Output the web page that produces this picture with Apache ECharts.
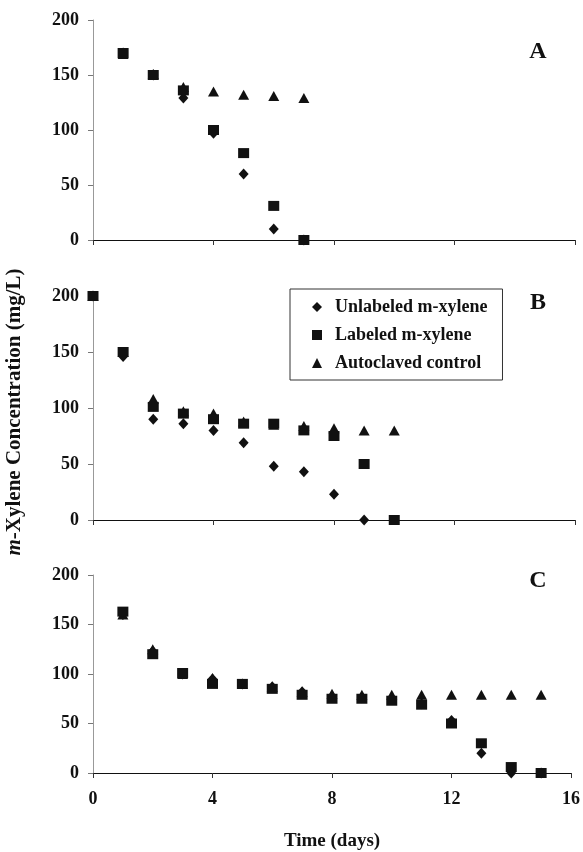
<!DOCTYPE html>
<html><head><meta charset="utf-8">
<script src="https://cdn.jsdelivr.net/npm/echarts@6/dist/echarts.min.js"></script>
<style>html,body{margin:0;padding:0;background:#fff}#c{width:583px;height:852px}</style>
</head><body><div id="c"></div>
<script>
// Panel A (days 1-7)
const daysA = [1,2,3,4,5,6,7];
const unlabeledA = [170,150,129,97,60,10,0];
const labeledA   = [170,150,136,100,79,31,0];
const autoclavedA= [169,151,139,135,132,131,129];
// Panel B (days 0-10)
const daysB = [0,1,2,3,4,5,6,7,8,9,10];
const unlabeledB = [200,146,90,86,80,69,48,43,23,0,null];
const labeledB   = [200,150,101,95,90,86,86,80,75,50,0];
const autoclavedB= [200,150,108,97,95,88,85,84,82,80,80];
// Panel C (days 1-15)
const daysC = [1,2,3,4,5,6,7,8,9,10,11,12,13,14,15];
const unlabeledC = [160,123,100,95,90,87,82,77,76,75,70,53,20,0,0];
const labeledC   = [163,120,101,90,90,85,79,75,75,73,69,50,30,6,0];
const autoclavedC= [160,125,100,96,90,87,82,80,79,79,79,79,79,79,79];
const xTicks = [0,4,8,12,16];
const yTicks = [0,50,100,150,200];
const seriesNames = ['Unlabeled m-xylene','Labeled m-xylene','Autoclaved control'];
const panelLetters = ['A','B','C'];

const FONT = '"Liberation Serif", "Times New Roman", serif';
const chart = echarts.init(document.getElementById('c'));
const grids = [
  {left:93, top:20, width:482, height:220},
  {left:93, top:296, width:482, height:224},
  {left:93, top:575, width:481, height:208}
];
const xAxes = grids.map((g,i)=>({
  type:'value', gridIndex:i, min:xTicks[0], max:xTicks[xTicks.length-1], interval:4,
  axisLine:{lineStyle:{color:'#111',width:1}},
  axisTick:{show:true, length:5, lineStyle:{color:'#333'}},
  splitLine:{show:false},
  axisLabel:{show:i===2, color:'#111', fontFamily:FONT, fontWeight:'bold', fontSize:18, margin:17},
  name: i===2 ? 'Time (days)' : '',
  nameLocation:'middle', nameGap:59,
  nameTextStyle:{color:'#111', fontFamily:FONT, fontWeight:'bold', fontSize:19}
}));
const yAxes = grids.map((g,i)=>({
  type:'value', gridIndex:i, min:yTicks[0], max:yTicks[yTicks.length-1], interval:50,
  axisLine:{show:true, lineStyle:{color:'#999',width:1}},
  axisTick:{show:true, length:5, lineStyle:{color:'#777'}},
  splitLine:{show:false},
  axisLabel:{color:'#111', fontFamily:FONT, fontWeight:'bold', fontSize:18, margin:14}
}));
const panels = [
  [daysA,[unlabeledA,labeledA,autoclavedA]],
  [daysB,[unlabeledB,labeledB,autoclavedB]],
  [daysC,[unlabeledC,labeledC,autoclavedC]]
];
const symbols = ['diamond','rect','triangle'];
const sizes = [[10,11],[11,10],[11,10]];
const zs = [2,4,3];
const series = [];
panels.forEach(([days,sets],pi)=>{
  sets.forEach((vals,si)=>{
    series.push({
      name:seriesNames[si], type:'scatter', xAxisIndex:pi, yAxisIndex:pi,
      symbol:symbols[si], symbolSize:sizes[si], z:zs[si],
      itemStyle:{color:'#111', opacity:1},
      emphasis:{disabled:true},
      data: days.map((d,k)=>vals[k]==null?null:[d,vals[k]]).filter(p=>p)
    });
  });
});
const letterY = [52,303,581];
const graphic = panelLetters.map((L,i)=>({
  type:'text', x:538, y:letterY[i],
  style:{text:L, font:'bold 24px '+FONT, fill:'#111', align:'center', verticalAlign:'middle'}
}));
graphic.push({
  type:'text', x:15, y:412, rotation:Math.PI/2,
  style:{
    text:'{i|m}{n|-Xylene Concentration (mg/L)}',
    align:'center', verticalAlign:'middle',
    rich:{
      i:{font:'italic bold 21px '+FONT, fill:'#111'},
      n:{font:'bold 21px '+FONT, fill:'#111'}
    }
  }
});
chart.setOption({
  animation:false,
  backgroundColor:'#fff',
  grid:grids,
  xAxis:xAxes,
  yAxis:yAxes,
  legend:{
    data:seriesNames.map((n,i)=>({name:n, icon:symbols[i]})),
    orient:'vertical', left:290, top:289,
    itemWidth:10, itemHeight:10, itemGap:10,
    padding:[9,15,8,22],
    borderColor:'#333', borderWidth:1,
    selectedMode:false,
    textStyle:{color:'#111', fontFamily:FONT, fontWeight:'bold', fontSize:18, lineHeight:18, padding:[0,0,0,8]}
  },
  graphic:graphic,
  series:series
});
</script></body></html>
